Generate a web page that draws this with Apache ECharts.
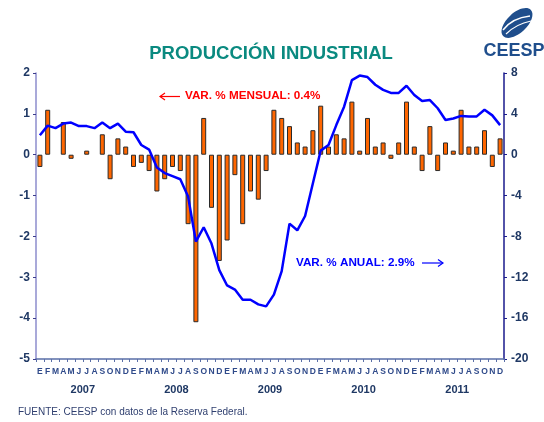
<!DOCTYPE html>
<html><head><meta charset="utf-8">
<script src="https://cdn.jsdelivr.net/npm/echarts@6/dist/echarts.min.js"></script>
<style>html,body{margin:0;padding:0;background:#fff}#c{width:544px;height:422px}</style>
</head><body><div id="c"></div>
<script>
const monthLabels = ['E','F','M','A','M','J','J','A','S','O','N','D'];
const years = ['2007','2008','2009','2010','2011'];
const categories = [];
years.forEach(y => monthLabels.forEach(m => categories.push(m + ' ' + y)));
const mensual = [
 -0.3,1.1,0,0.8,-0.1,0,0.1,0,0.5,-0.6,0.4,0.2,
 -0.3,-0.2,-0.4,-0.9,-0.6,-0.3,-0.4,-1.7,-4.1,0.9,-1.3,-2.6,
 -2.1,-0.5,-1.7,-0.9,-1.1,-0.4,1.1,0.9,0.7,0.3,0.2,0.6,
 1.2,0.2,0.5,0.4,1.3,0.1,0.9,0.2,0.3,-0.1,0.3,1.3,
 0.2,-0.4,0.7,-0.4,0.3,0.1,1.1,0.2,0.2,0.6,-0.3,0.4
];
const anual = [
 1.9,2.85,2.6,3.05,3.15,2.8,2.8,2.6,3.15,2.6,3.05,2.25,
 2.2,0.95,0.5,-1.25,-1.8,-2.1,-2.4,-4.1,-8.5,-7.1,-8.7,-11.3,
 -12.8,-13.2,-14.2,-14.2,-14.65,-14.85,-13.7,-11.4,-6.75,-7.4,-6.0,-2.8,
 0.4,0.95,2.9,4.7,7.3,7.75,7.6,6.85,6.35,6.05,6.05,6.75,
 5.85,5.25,5.35,4.55,3.4,3.55,3.8,3.75,3.75,4.4,3.85,2.9
];
const leftTicks = {min:-5, max:2, interval:1};
const rightTicks = {min:-20, max:8, interval:4};

const navy = '#1F3864';
const chart = echarts.init(document.getElementById('c'));
chart.setOption({
  animation:false,
  backgroundColor:'#ffffff',
  textStyle:{fontFamily:'Liberation Sans, Arial, sans-serif'},
  title:{text:'PRODUCCIÓN INDUSTRIAL', left:266, top:39, textAlign:'center',
    textStyle:{color:'#0A8A80', fontSize:18.5, fontWeight:'bold', fontFamily:'Liberation Sans, Arial, sans-serif'}},
  grid:{left:36, right:40, top:73, bottom:63},
  xAxis:[{
    type:'category', data:categories, position:'bottom',
    boundaryGap:true,
    axisLine:{onZero:false, lineStyle:{color:'#5A6FA8', width:1.5}},
    axisTick:{show:true, interval:0, alignWithLabel:false, length:3, lineStyle:{color:'#5A6FA8'}},
    axisLabel:{interval:0, margin:8, fontSize:8.5, fontWeight:'bold', color:'#2F4A8A',
      formatter:v => v.split(' ')[0]},
    splitLine:{show:false}
  },{
    type:'category', data:years, position:'bottom', offset:19,
    axisLine:{show:false}, axisTick:{show:false},
    axisLabel:{fontSize:11, fontWeight:'bold', color:navy, margin:6},
    splitLine:{show:false}
  }],
  yAxis:[{
    type:'value', min:leftTicks.min, max:leftTicks.max, interval:leftTicks.interval, position:'left',
    axisLine:{show:true, lineStyle:{color:'#8C8CCC', width:1.5}},
    axisTick:{show:true, length:3, lineStyle:{color:'#3C3C8C'}},
    axisLabel:{fontSize:12, fontWeight:'bold', color:navy, margin:6},
    splitLine:{show:false}
  },{
    type:'value', min:rightTicks.min, max:rightTicks.max, interval:rightTicks.interval, position:'right',
    axisLine:{show:true, lineStyle:{color:'#1A1A8C', width:1.5}},
    axisTick:{show:true, length:3, lineStyle:{color:'#1A1A8C'}},
    axisLabel:{fontSize:12, fontWeight:'bold', color:navy, margin:7},
    splitLine:{show:false}
  }],
  series:[{
    type:'bar', xAxisIndex:0, yAxisIndex:0, barWidth:5,
    data:mensual.map(v => v === 0 ? {value:v, itemStyle:{borderWidth:0}} : v),
    itemStyle:{color:'#FF6600', borderColor:'#2A2A2A', borderWidth:1}
  },{
    type:'line', data:anual, xAxisIndex:0, yAxisIndex:1, symbol:'none', smooth:false,
    lineStyle:{color:'#0000FF', width:2.5}
  }],
  graphic:[
    {type:'line', shape:{x1:160,y1:96.5,x2:180,y2:96.5}, style:{stroke:'#FF0000', lineWidth:1.2}},
    {type:'polyline', shape:{points:[[165,93],[160,96.5],[165,100]]}, style:{stroke:'#FF0000', lineWidth:1.2, fill:null}},
    {type:'text', x:185, y:96, style:{text:'VAR. % MENSUAL: 0.4%', fill:'#FF0000', font:'bold 11.7px Liberation Sans, Arial, sans-serif', textVerticalAlign:'middle'}},
    {type:'text', x:296, y:263, style:{text:'VAR. % ANUAL: 2.9%', fill:'#0000FF', font:'bold 11.7px Liberation Sans, Arial, sans-serif', textVerticalAlign:'middle'}},
    {type:'line', shape:{x1:422,y1:263,x2:443,y2:263}, style:{stroke:'#0000FF', lineWidth:1.2}},
    {type:'polyline', shape:{points:[[438,259.5],[443,263],[438,266.5]]}, style:{stroke:'#0000FF', lineWidth:1.2, fill:null}},
    {type:'text', x:18, y:412, style:{text:'FUENTE: CEESP con datos de la Reserva Federal.', fill:'#2F3F6F', font:'10px Liberation Sans, Arial, sans-serif', textVerticalAlign:'middle'}},
    {type:'ellipse', shape:{cx:517, cy:23, rx:19, ry:10}, rotation:0.75, originX:517, originY:23, style:{fill:'#1F4E8C'}},
    {type:'bezierCurve', shape:{x1:503,y1:30,cpx1:512,cpy1:18,x2:530,y2:16}, style:{stroke:'#ffffff', lineWidth:1.5, fill:null}},
    {type:'bezierCurve', shape:{x1:506,y1:34,cpx1:516,cpy1:24,x2:531,y2:21}, style:{stroke:'#ffffff', lineWidth:1.2, fill:null}},
    {type:'text', x:514, y:51, style:{text:'CEESP', fill:'#1F4E8C', font:'bold 18px Liberation Sans Narrow, Arial Narrow, Liberation Sans, sans-serif', textAlign:'center', textVerticalAlign:'middle'}}
  ]
});
</script></body></html>
